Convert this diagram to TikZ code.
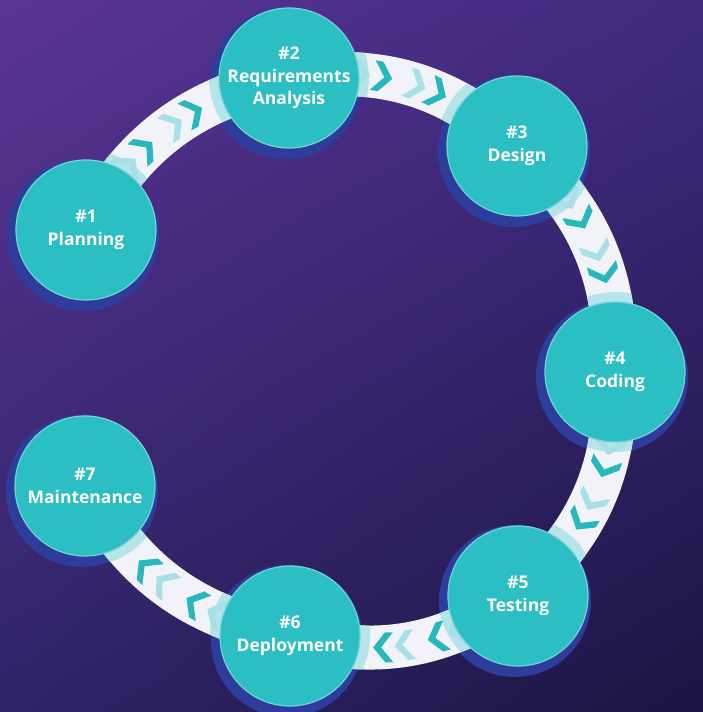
\documentclass[tikz,border=0pt]{standalone}
\usepackage{fontspec}
\setsansfont{Open Sans}
\usetikzlibrary{backgrounds, decorations.markings, shadings}

\definecolor{bgtl}{HTML}{5B3494}
\definecolor{bgtr}{HTML}{3F2A7F}
\definecolor{bgbl}{HTML}{2F2468}
\definecolor{bgbr}{HTML}{1B1542}
\definecolor{phaseteal}{HTML}{2BBFC4}
\definecolor{phaserim}{HTML}{72D4D8}
\definecolor{ringblue}{HTML}{2E3C9C}
\definecolor{bandwhite}{HTML}{F2F3F8}
\definecolor{halo}{HTML}{B5E4E9}
\definecolor{chevlight}{HTML}{A9DFE6}
\definecolor{chevteal}{HTML}{27B8BE}

\newcommand{\chev}[1]{\fill[#1] (0pt,0pt)--(-12pt,15pt)--(-20pt,15pt)--(-8pt,0pt)--(-20pt,-15pt)--(-12pt,-15pt)--cycle;}

\tikzset{
    phase/.style={circle, fill=phaseteal, draw=phaserim, line width=1.2pt, minimum size=140pt, inner sep=0pt,
        text=white, align=center, font=\sffamily\bfseries\fontsize{17.5}{22.5}\selectfont},
    band/.style={line width=44pt, draw=bandwhite},
    chevrons/.style={decoration={markings,
        mark=at position 0.33 with {\chev{chevlight}},
        mark=at position 0.42 with {\chev{chevteal}},
        mark=at position 0.56 with {\chev{chevlight}},
        mark=at position 0.65 with {\chev{chevteal}}}, decorate}
}

\begin{document}
\begin{tikzpicture}[x=1pt, y=1pt]
    \useasboundingbox (0,0) rectangle (703,712);

    % phases
    \node[phase] (plan) at (86,482) {\#1\\Planning};
    \node[phase] (req)  at (289,634) {\#2\\Requirements\\Analysis};
    \node[phase] (des)  at (517,566) {\#3\\Design};
    \node[phase] (code) at (615,340) {\#4\\Coding};
    \node[phase] (test) at (518,116) {\#5\\Testing};
    \node[phase] (dep)  at (290,76) {\#6\\Deployment};
    \node[phase] (main) at (85,226) {\#7\\Maintenance};

    \begin{scope}[on background layer]
        \shade[upper left=bgtl, upper right=bgtr, lower left=bgbl, lower right=bgbr] (0,0) rectangle (703,712);

        \foreach \n in {plan,req,des,code,test,dep,main}
            \fill[ringblue] ([shift={(-3pt,-5pt)}]\n.center) circle (76pt);

        % the road
        \draw[band] (plan.center) to[bend left=25] (req.center) to[bend left=25] (des.center)
            to[bend left=25] (code.center) to[bend left=25] (test.center)
            to[bend left=25] (dep.center) to[bend left=25] (main.center);

        \begin{scope}
            \clip (plan.center) circle (80pt) (req.center) circle (80pt) (des.center) circle (80pt)
                (code.center) circle (80pt) (test.center) circle (80pt) (dep.center) circle (80pt)
                (main.center) circle (80pt);
            \draw[band, draw=halo] (plan.center) to[bend left=25] (req.center) to[bend left=25] (des.center)
                to[bend left=25] (code.center) to[bend left=25] (test.center)
                to[bend left=25] (dep.center) to[bend left=25] (main.center);
        \end{scope}

        \foreach \a/\b in {plan/req, req/des, des/code, code/test, test/dep, dep/main}
            \path[chevrons] (\a.center) to[bend left=25] (\b.center);
    \end{scope}
\end{tikzpicture}
\end{document}
